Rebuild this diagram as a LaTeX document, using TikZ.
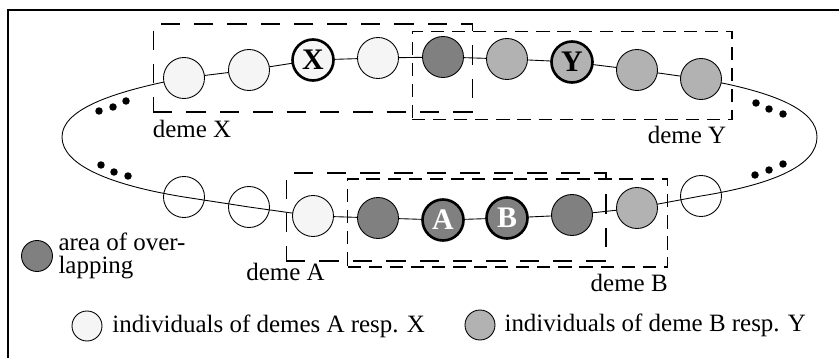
\documentclass[tikz,border=0pt]{standalone}
\usepackage{fontspec}
\setmainfont{Liberation Serif}
\usepackage{tikz}
\usetikzlibrary{positioning,backgrounds}

\definecolor{lightind}{gray}{0.96}
\definecolor{midind}{gray}{0.70}
\definecolor{darkind}{gray}{0.50}

\begin{document}
\begin{tikzpicture}[x=0.02cm,y=-0.02cm,
    every node/.style={font=\fontsize{14.2}{13.5}\selectfont},
    ind/.style={circle,draw,line width=0.5pt,minimum size=0.82cm,inner sep=0pt},
    chosen/.style={ind,line width=1.5pt,font=\fontsize{17}{17}\selectfont\bfseries},
    bead/.style={circle,fill,inner sep=0pt,minimum size=0.15cm},
    legendind/.style={circle,draw,line width=0.5pt,minimum size=0.6cm,inner sep=0pt},
    demebox/.style={draw,line width=0.6pt,inner sep=0pt,minimum width=6.4cm,minimum height=1.76cm},
    longdash/.style={demebox,dash pattern=on 11pt off 8pt},
    shortdash/.style={demebox,dash pattern=on 7.5pt off 4.5pt},
    lbl/.style={inner sep=0pt}]
    \useasboundingbox (0,0) rectangle (839,358);
    \draw[line width=0.8pt] (8,358) -- (8,10) -- (839,10);

    % upper row: deme X and deme Y
    \node[ind,fill=lightind] (x1) at (184,78) {};
    \node[ind,fill=lightind] (x2) at (249,70) {};
    \node[chosen,fill=lightind] (X) at (313,60) {X};
    \node[ind,fill=lightind] (x3) at (378,58) {};
    \node[ind,fill=darkind] (o1) at (443,57) {};
    \node[ind,fill=midind] (y1) at (507,59) {};
    \node[chosen,fill=midind] (Y) at (572,62) {Y};
    \node[ind,fill=midind] (y2) at (637,70) {};
    \node[ind,fill=midind] (y3) at (701,79) {};

    % lower row: deme A and deme B
    \node[ind] (w1) at (184,197) {};
    \node[ind] (w2) at (249,207) {};
    \node[ind,fill=lightind] (a1) at (313,216) {};
    \node[ind,fill=darkind] (o2) at (378,218) {};
    \node[chosen,fill=darkind,text=white] (A) at (443,220) {A};
    \node[chosen,fill=darkind,text=white] (B) at (507,218) {B};
    \node[ind,fill=darkind] (o3) at (572,215) {};
    \node[ind,fill=midind] (b1) at (637,208) {};
    \node[ind] (w3) at (701,196) {};

    \coordinate (L) at (62,137);
    \coordinate (R) at (817,137);
    \begin{scope}[on background layer]
        \draw[line width=0.5pt] (x1.center) -- (x2.center) -- (X.center) -- (x3.center)
            -- (o1.center) -- (y1.center) -- (Y.center) -- (y2.center) -- (y3.center)
            .. controls (775,92) and (817,110) .. (R)
            .. controls (817,165) and (775,184) .. (w3.center)
            -- (b1.center) -- (o3.center) -- (B.center) -- (A.center) -- (o2.center)
            -- (a1.center) -- (w2.center) -- (w1.center)
            .. controls (110,185) and (62,165) .. (L)
            .. controls (62,110) and (110,92) .. (x1.center);
    \end{scope}

    \foreach \p [count=\i] in {(99,111),(113,107),(126,101),(101,165),(114,172),(128,176),
        (756,103),(769,109),(783,114),(755,175),(769,170),(783,164)}
        \node[bead] (bead\i) at \p {};

    \node[longdash] (boxX) at (313,68) {};
    \node[shortdash] (boxY) at (572,75.5) {};
    \node[longdash] (boxA) at (446,217) {};
    \node[shortdash] (boxB) at (507.5,223) {};
    \node[lbl,below right=4pt and 0pt of boxX.south west] (lblX) {deme X};
    \node[lbl,below left=3.4pt and 3.4pt of boxY.south east] (lblY) {deme Y};
    \node[lbl,below=0.5pt of boxA.south west] (lblA) {deme A};
    \node[lbl,below left=3.4pt and 0pt of boxB.south east] (lblB) {deme B};

    % legend
    \node[legendind,fill=darkind,minimum size=0.62cm] (legO) at (37,256) {};
    \node[lbl,right=3pt of legO,align=left] (txtO) {area of over-\\lapping};
    \node[legendind,fill=lightind] (legX) at (87,326) {};
    \node[lbl,right=5.5pt of legX] (txtX) {individuals of demes A resp. X};
    \node[legendind,fill=midind] (legY) at (480,325) {};
    \node[lbl,right=5pt of legY] (txtY) {individuals of deme B resp. Y};
\end{tikzpicture}
\end{document}
